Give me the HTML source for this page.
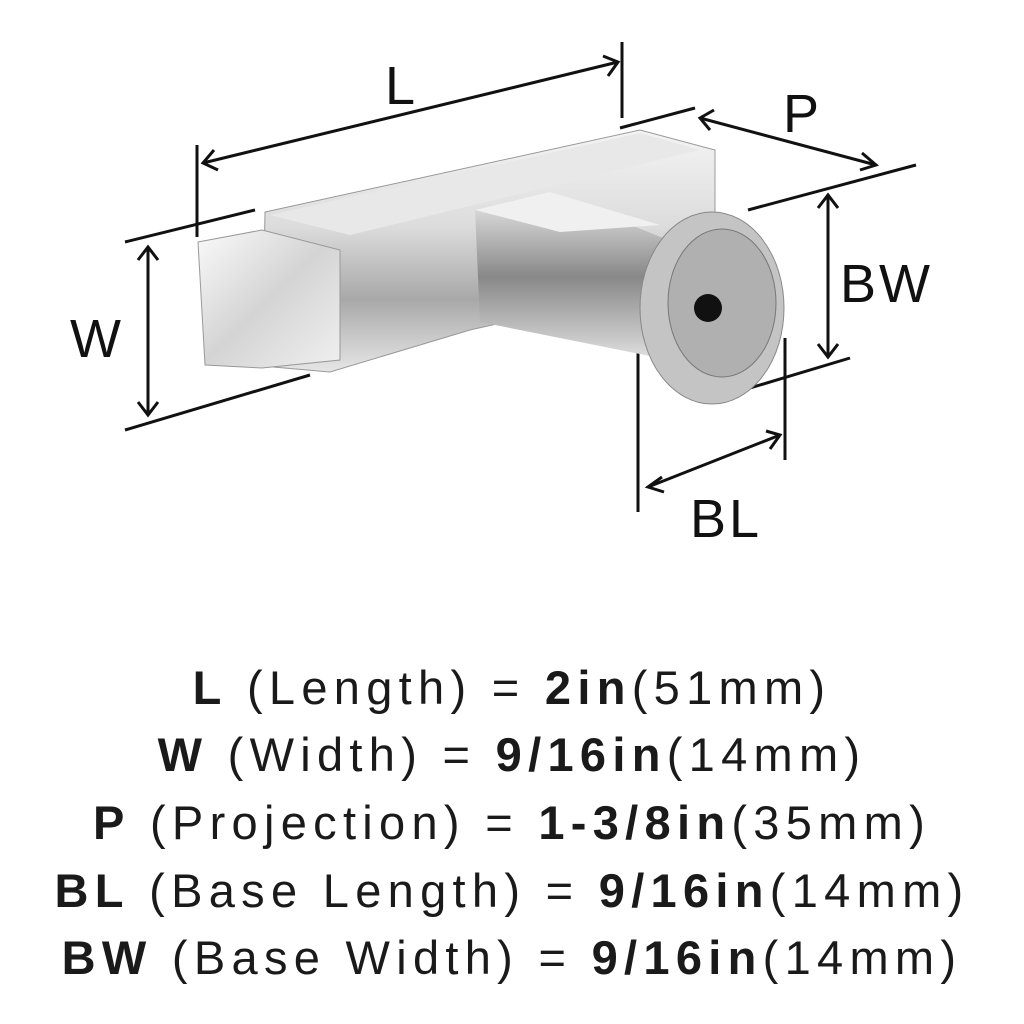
<!DOCTYPE html>
<html><head><meta charset="utf-8"><style>
body{margin:0;width:1024px;height:1024px;background:#fff;overflow:hidden;position:relative;font-family:"Liberation Sans",sans-serif;}
.t{position:absolute;left:0;width:1024px;text-align:center;font-size:47px;letter-spacing:6.3px;color:#1a1a1a;line-height:1;}
b{font-weight:bold}
.lb{position:absolute;font-size:54px;letter-spacing:3px;color:#111;}
</style></head><body>
<svg width="1024" height="640" style="position:absolute;left:0;top:0">
<defs>
<linearGradient id="g1" x1="0" y1="0" x2="0" y2="1"><stop offset="0" stop-color="#f4f4f4"/><stop offset="0.4" stop-color="#dcdcdc"/><stop offset="0.7" stop-color="#a8a8a8"/><stop offset="1" stop-color="#e6e6e6"/></linearGradient>
<linearGradient id="g2" x1="0" y1="0" x2="1" y2="1"><stop offset="0" stop-color="#fafafa"/><stop offset="0.5" stop-color="#d4d4d4"/><stop offset="1" stop-color="#f0f0f0"/></linearGradient>
<linearGradient id="g3" x1="0" y1="0" x2="0" y2="1"><stop offset="0" stop-color="#ececec"/><stop offset="0.5" stop-color="#888"/><stop offset="1" stop-color="#e2e2e2"/></linearGradient>
</defs>
<g stroke="#111" stroke-width="3" fill="none">
<line x1="203" y1="163" x2="618" y2="62"/><polyline points="214,150 203,163 218,170"/><polyline points="603,56 618,62 608,76"/>
<line x1="197" y1="145" x2="197" y2="237"/><line x1="622" y1="42" x2="622" y2="118"/>
<line x1="125" y1="242" x2="255" y2="210"/><line x1="125" y1="430" x2="310" y2="375"/>
<line x1="148" y1="247" x2="148" y2="415"/><polyline points="138,260 148,247 158,260"/><polyline points="138,402 148,415 158,402"/>
<line x1="620" y1="128" x2="695" y2="108"/><line x1="748" y1="210" x2="916" y2="165"/>
<line x1="700" y1="118" x2="876" y2="165"/><polyline points="714,110 700,118 710,130"/><polyline points="862,153 876,165 860,170"/>
<line x1="828" y1="195" x2="828" y2="357"/><polyline points="818,208 828,195 838,208"/><polyline points="818,344 828,357 838,344"/>
<line x1="750" y1="388" x2="850" y2="358"/>
<line x1="638" y1="320" x2="638" y2="512"/><line x1="785" y1="338" x2="785" y2="460"/>
<line x1="648" y1="487" x2="780" y2="435"/><polyline points="662,477 648,487 664,492"/><polyline points="766,431 780,435 770,449"/>
</g>
<polygon points="265,212 640,130 715,150 715,275 470,330 330,372 262,366" fill="url(#g1)" stroke="#999" stroke-width="1"/>
<polygon points="270,215 640,133 700,150 350,235" fill="#e8e8e8"/>
<polygon points="198,242 262,230 340,250 340,360 262,368 205,365" fill="url(#g2)" stroke="#999"/>
<polygon points="475,210 550,192 680,245 680,362 480,322" fill="url(#g3)"/>
<polygon points="475,210 550,192 660,225 560,232" fill="#f0f0f0"/>
<ellipse cx="712" cy="308" rx="72" ry="96" fill="#c4c4c4" stroke="#888"/>
<ellipse cx="722" cy="303" rx="54" ry="74" fill="#b0b0b0" stroke="#777"/>
<circle cx="708" cy="308" r="14" fill="#111"/>
</svg>
<div class="lb" style="left:385px;top:55px;">L</div>
<div class="lb" style="left:783px;top:83px;">P</div>
<div class="lb" style="left:840px;top:253px;">BW</div>
<div class="lb" style="left:70px;top:308px;">W</div>
<div class="lb" style="left:690px;top:488px;">BL</div>
<div class="t" style="top:664px"><b>L</b> (Length) = <b>2in</b>(51mm)</div>
<div class="t" style="top:731px"><b>W</b> (Width) = <b>9/16in</b>(14mm)</div>
<div class="t" style="top:799px"><b>P</b> (Projection) = <b>1-3/8in</b>(35mm)</div>
<div class="t" style="top:867px"><b>BL</b> (Base Length) = <b>9/16in</b>(14mm)</div>
<div class="t" style="top:934px"><b>BW</b> (Base Width) = <b>9/16in</b>(14mm)</div>
</body></html>
